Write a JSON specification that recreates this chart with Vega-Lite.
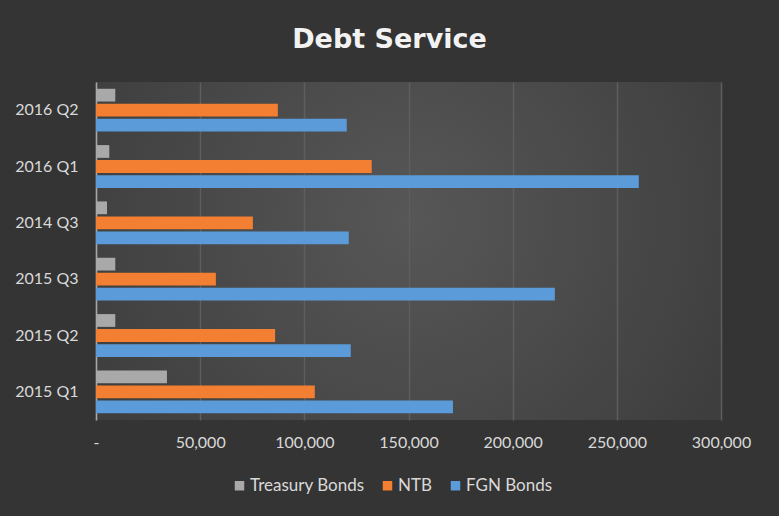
{
  "$schema": "https://vega.github.io/schema/vega-lite/v6.json",
  "autosize": "none",
  "width": 625,
  "height": 338,
  "padding": {"left": 96, "top": 82, "right": 58, "bottom": 96},
  "background": "#343434",
  "title": {
    "text": "Debt Service",
    "font": "DejaVu Sans",
    "fontSize": 27,
    "fontWeight": "bold",
    "color": "#f2f2f2",
    "anchor": "middle",
    "offset": 28,
    "dx": -19
  },
  "data": {
    "values": [
      {"quarter": "2016 Q2", "series": "Treasury Bonds", "value": 9260},
      {"quarter": "2016 Q2", "series": "NTB", "value": 87280},
      {"quarter": "2016 Q2", "series": "FGN Bonds", "value": 120360},
      {"quarter": "2016 Q1", "series": "Treasury Bonds", "value": 6380},
      {"quarter": "2016 Q1", "series": "NTB", "value": 132350},
      {"quarter": "2016 Q1", "series": "FGN Bonds", "value": 260540},
      {"quarter": "2014 Q3", "series": "Treasury Bonds", "value": 5270},
      {"quarter": "2014 Q3", "series": "NTB", "value": 75290},
      {"quarter": "2014 Q3", "series": "FGN Bonds", "value": 121320},
      {"quarter": "2015 Q3", "series": "Treasury Bonds", "value": 9260},
      {"quarter": "2015 Q3", "series": "NTB", "value": 57540},
      {"quarter": "2015 Q3", "series": "FGN Bonds", "value": 220250},
      {"quarter": "2015 Q2", "series": "Treasury Bonds", "value": 9260},
      {"quarter": "2015 Q2", "series": "NTB", "value": 85980},
      {"quarter": "2015 Q2", "series": "FGN Bonds", "value": 122280},
      {"quarter": "2015 Q1", "series": "Treasury Bonds", "value": 34050},
      {"quarter": "2015 Q1", "series": "NTB", "value": 105020},
      {"quarter": "2015 Q1", "series": "FGN Bonds", "value": 171340}
    ]
  },
  "mark": {"type": "bar"},
  "encoding": {
    "y": {
      "field": "quarter",
      "type": "nominal",
      "sort": ["2016 Q2", "2016 Q1", "2014 Q3", "2015 Q3", "2015 Q2", "2015 Q1"],
      "title": null,
      "scale": {"paddingInner": 0.24, "paddingOuter": 0.12},
      "axis": {
        "domain": true,
        "domainColor": "#a6a6a6",
        "domainWidth": 1.5,
        "ticks": false,
        "labelPadding": 18,
        "labelFont": "Lato",
        "labelFontSize": 16,
        "labelColor": "#d9d9d9"
      }
    },
    "yOffset": {
      "field": "series",
      "type": "nominal",
      "sort": ["Treasury Bonds", "NTB", "FGN Bonds"],
      "scale": {"paddingInner": 0.15}
    },
    "x": {
      "field": "value",
      "type": "quantitative",
      "title": null,
      "scale": {"domain": [0, 300000], "nice": false},
      "axis": {
        "values": [0, 50000, 100000, 150000, 200000, 250000, 300000],
        "labelExpr": "datum.value == 0 ? '-\u00a0\u00a0\u00a0' : format(datum.value, ',')",
        "labelFlush": false,
        "domain": false,
        "ticks": false,
        "grid": true,
        "gridColor": "#5e5e5e",
        "gridWidth": 1.5,
        "labelPadding": 14,
        "labelFont": "Lato",
        "labelFontSize": 16,
        "labelColor": "#d9d9d9"
      }
    },
    "color": {
      "field": "series",
      "type": "nominal",
      "title": null,
      "scale": {
        "domain": ["Treasury Bonds", "NTB", "FGN Bonds"],
        "range": ["#a9a9a9", "#f37f32", "#5b9bd9"]
      },
      "legend": {
        "orient": "none",
        "legendX": 135,
        "legendY": 395,
        "direction": "horizontal",
        "symbolType": "square",
        "symbolSize": 90,
        "labelFont": "Lato",
        "labelFontSize": 17,
        "labelColor": "#d9d9d9",
        "labelOffset": 2,
        "columnPadding": 14
      }
    }
  },
  "config": {
    "view": {
      "stroke": null,
      "fill": {
        "gradient": "radial",
        "x1": 0.5, "y1": 0.45, "r1": 0,
        "x2": 0.5, "y2": 0.45, "r2": 0.8,
        "stops": [
          {"offset": 0, "color": "#575757"},
          {"offset": 1, "color": "#343434"}
        ]
      }
    }
  }
}
